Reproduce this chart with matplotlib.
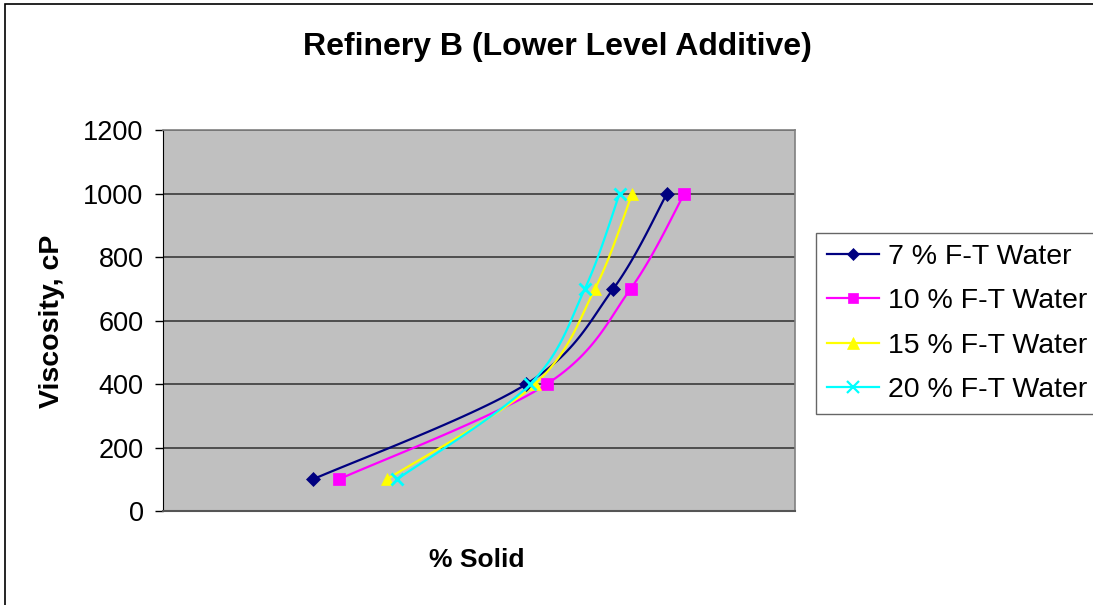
import numpy as np
import matplotlib
matplotlib.use("Agg")
import matplotlib.pyplot as plt
from matplotlib.patches import Rectangle
from matplotlib.lines import Line2D

plt.rcParams['font.family'] = ['Liberation Sans', 'DejaVu Sans']

# Viscosity levels (cP) and the % solid reached at each level
viscosity = [100, 400, 700, 1000]
solid_7 = [49.75, 56.50, 59.25, 60.95]
solid_10 = [50.57, 57.15, 59.80, 61.50]
solid_15 = [52.09, 56.77, 58.67, 59.85]
solid_20 = [52.41, 56.62, 58.35, 59.45]

labels = ["7 % F-T Water", "10 % F-T Water", "15 % F-T Water", "20 % F-T Water"]
series = [solid_7, solid_10, solid_15, solid_20]
colors = ["#000080", "#FF00FF", "#FFFF00", "#00FFFF"]
markers = ["D", "s", "^", "x"]
msizes = [7, 8, 9, 9]

W, H = 1093, 605
fig = plt.figure(figsize=(W / 100, H / 100), dpi=100)
fig.patch.set_facecolor("white")

ax = fig.add_axes([163 / W, 1 - 511 / H, (795 - 163) / W, (511 - 130) / H])
ax.set_facecolor("#C0C0C0")
ax.set_xlim(45, 65)
ax.set_ylim(0, 1200)
ax.set_yticks(range(0, 1201, 200))
ax.set_xticks([])
ax.tick_params(axis="y", direction="out", length=6, width=1, labelsize=19.5, pad=8, color="black")
ax.grid(axis="y", color="#3a3a3a", linewidth=1.2)
ax.set_axisbelow(True)
for side in ["top", "right"]:
    ax.spines[side].set_color("#808080")
    ax.spines[side].set_linewidth(1.2)
ax.spines["left"].set_color("black")
ax.spines["bottom"].set_color("#555555")
ax.spines["bottom"].set_linewidth(1.5)


def smooth(xs, ys, n=30):
    """Bezier smoothing through the points, computed in screen space."""
    pts = ax.transData.transform(np.column_stack([xs, ys]))
    P = np.vstack([pts[0], pts, pts[-1]])
    out = []
    t = np.linspace(0, 1, n)[:, None]
    for i in range(1, len(P) - 2):
        p0, p1 = P[i], P[i + 1]
        c1 = p0 + (P[i + 1] - P[i - 1]) / 6.0
        c2 = p1 - (P[i + 2] - P[i]) / 6.0
        seg = ((1 - t) ** 3) * p0 + 3 * ((1 - t) ** 2) * t * c1 + 3 * (1 - t) * t ** 2 * c2 + t ** 3 * p1
        out.append(seg if i == 1 else seg[1:])
    out = np.vstack(out)
    return ax.transData.inverted().transform(out)


handles = []
for xs, lab, col, mk, ms in zip(series, labels, colors, markers, msizes):
    curve = smooth(xs, viscosity)
    ax.plot(curve[:, 0], curve[:, 1], color=col, linewidth=1.6, zorder=3)
    ax.plot(xs, viscosity, linestyle="none", marker=mk, markersize=ms, color=col,
            markeredgewidth=2 if mk == "x" else 0.5, markeredgecolor=col, zorder=4)
    handles.append(Line2D([0], [0], color=col, linewidth=1.6, marker=mk, markersize=ms - 1,
                          markeredgewidth=1.6 if mk == "x" else 0.5, markeredgecolor=col))

leg = fig.legend(handles, labels, loc="upper left", bbox_to_anchor=(816 / W, 1 - 233 / H),
                 fontsize=20.5, frameon=True, fancybox=False, edgecolor="#404040",
                 handlelength=1.85, handletextpad=0.3, labelspacing=0.65, borderpad=0.38,
                 borderaxespad=0)
leg.get_frame().set_linewidth(1.0)

fig.text(557 / W, 1 - 47 / H, "Refinery B (Lower Level Additive)", ha="center", va="center",
         fontsize=23, fontweight="bold")
fig.text(52 / W, 1 - 321 / H, "Viscosity, cP", ha="center", va="center", rotation=90,
         fontsize=20.5, fontweight="bold")
fig.text(477 / W, 1 - 560 / H, "% Solid", ha="center", va="center", fontsize=19, fontweight="bold")

# chart frame
fig.add_artist(Rectangle((5 / W, -0.05), 1.1, 1 - 4 / H + 0.05, transform=fig.transFigure,
                         fill=False, edgecolor="black", linewidth=1.2))

fig.savefig("out.png", dpi=100)
